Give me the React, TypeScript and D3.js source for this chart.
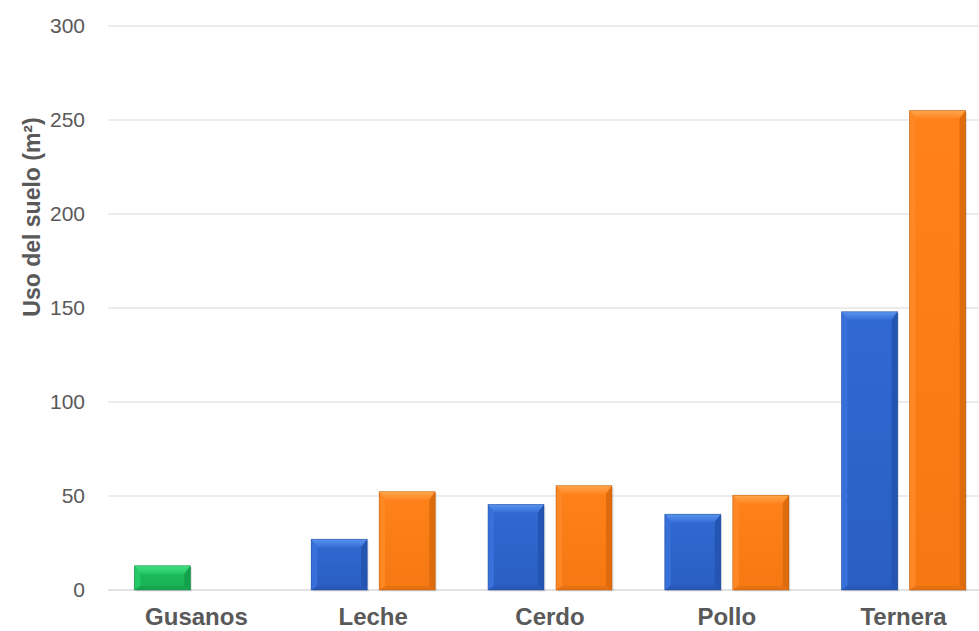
import React from "react";
import * as d3 from "d3";

const categories = ["Gusanos", "Leche", "Cerdo", "Pollo", "Ternera"];
const minValues = [12.9, 27, 45.5, 40.3, 148];
const maxValues = [null, 52.3, 55.5, 50.4, 255];
const yTicks = [0, 50, 100, 150, 200, 250, 300];
const yTitle = "Uso del suelo (m²)";

const W = 979;
const H = 631;

type Pal = { id: string; base: string; baseDark: string; top: string; left: string; right: string; bottom: string; edge: string };
const BLUE: Pal = { id: "b", base: "#3169d2", baseDark: "#2a5ec2", top: "#5a93ee", left: "#3670d8", right: "#2455b2", bottom: "#2858b8", edge: "#1c4390" };
const ORANGE: Pal = { id: "o", base: "#fe8119", baseDark: "#f57812", top: "#ffa64a", left: "#ff8724", right: "#de6b0c", bottom: "#e87010", edge: "#a84e08" };
const GREEN: Pal = { id: "g", base: "#1ebf5e", baseDark: "#18b055", top: "#40de80", left: "#24c866", right: "#12a04a", bottom: "#16a650", edge: "#0b7a37" };

function Bar({ x, y, w, h, pal }: { x: number; y: number; w: number; h: number; pal: Pal }) {
  const bt = Math.min(8, h / 2);
  const bs = Math.min(6, w / 2);
  const bb = Math.min(4, h / 4);
  const x2 = x + w;
  const y2 = y + h;
  const pts = (arr: number[][]) => arr.map((p) => p.join(",")).join(" ");
  return (
    <g>
      <rect x={x + 1.5} y={y + 1.5} width={w} height={h} fill="#000" opacity={0.1} />
      <rect x={x} y={y} width={w} height={h} fill={`url(#grad-${pal.id})`} />
      <polygon points={pts([[x, y], [x2, y], [x2 - bs, y + bt], [x + bs, y + bt]])} fill={`url(#top-${pal.id})`} />
      <polygon points={pts([[x, y], [x + bs, y + bt], [x + bs, y2 - bb], [x, y2]])} fill={pal.left} />
      <polygon points={pts([[x2, y], [x2, y2], [x2 - bs, y2 - bb], [x2 - bs, y + bt]])} fill={pal.right} />
      <polygon points={pts([[x, y2], [x + bs, y2 - bb], [x2 - bs, y2 - bb], [x2, y2]])} fill={pal.bottom} />
      <rect x={x} y={y} width={w} height={h} fill="none" stroke={pal.edge} strokeWidth={0.8} opacity={0.5} />
    </g>
  );
}

export default function App() {
  const x0 = d3.scaleBand<string>().domain(categories).range([108, 992]).padding(0);
  const x1 = d3
    .scaleBand<string>()
    .domain(["min", "max"])
    .range([0, x0.bandwidth()])
    .paddingInner(0.176)
    .paddingOuter(0.388);
  const y = d3.scaleLinear().domain([0, 300]).range([590, 26]);
  const pals = [BLUE, ORANGE, GREEN];

  return (
    <svg
      width={W}
      height={H}
      style={{ position: "absolute", left: 0, top: 0, display: "block", background: "#fff" }}
      fontFamily="'Liberation Sans', Arial, sans-serif"
    >
      <defs>
        {pals.map((p) => (
          <linearGradient key={"g" + p.id} id={`grad-${p.id}`} x1="0" y1="0" x2="0" y2="1">
            <stop offset="0" stopColor={p.base} />
            <stop offset="1" stopColor={p.baseDark} />
          </linearGradient>
        ))}
        {pals.map((p) => (
          <linearGradient key={"t" + p.id} id={`top-${p.id}`} x1="0" y1="0" x2="0" y2="1">
            <stop offset="0" stopColor={p.top} />
            <stop offset="1" stopColor={p.left} />
          </linearGradient>
        ))}
      </defs>
      <rect x={0} y={0} width={W} height={H} fill="#fff" />
      {yTicks.map((t) => (
        <g key={t}>
          <line x1={108} x2={W} y1={y(t)} y2={y(t)} stroke="#d9d9d9" strokeWidth={t === 0 ? 1.5 : 1} />
          <text x={85} y={y(t)} dy="0.35em" textAnchor="end" fontSize={21} fill="#595959">
            {t}
          </text>
        </g>
      ))}
      {categories.map((c, i) => {
        const gx = x0(c)!;
        const bars = [];
        const vMin = minValues[i];
        if (vMin != null) {
          bars.push(
            <Bar
              key="min"
              x={gx + x1("min")!}
              y={y(vMin)}
              w={x1.bandwidth()}
              h={y(0) - y(vMin)}
              pal={i === 0 ? GREEN : BLUE}
            />
          );
        }
        const vMax = maxValues[i];
        if (vMax != null) {
          bars.push(
            <Bar key="max" x={gx + x1("max")!} y={y(vMax)} w={x1.bandwidth()} h={y(0) - y(vMax)} pal={ORANGE} />
          );
        }
        return <g key={c}>{bars}</g>;
      })}
      {categories.map((c) => (
        <text
          key={c}
          x={x0(c)! + x0.bandwidth() / 2}
          y={625}
          textAnchor="middle"
          fontSize={24}
          fontWeight="bold"
          fill="#595959"
        >
          {c}
        </text>
      ))}
      <text
        transform={`translate(40,217) rotate(-90)`}
        textAnchor="middle"
        fontSize={23}
        fontWeight="bold"
        fill="#595959"
      >
        {yTitle}
      </text>
    </svg>
  );
}
